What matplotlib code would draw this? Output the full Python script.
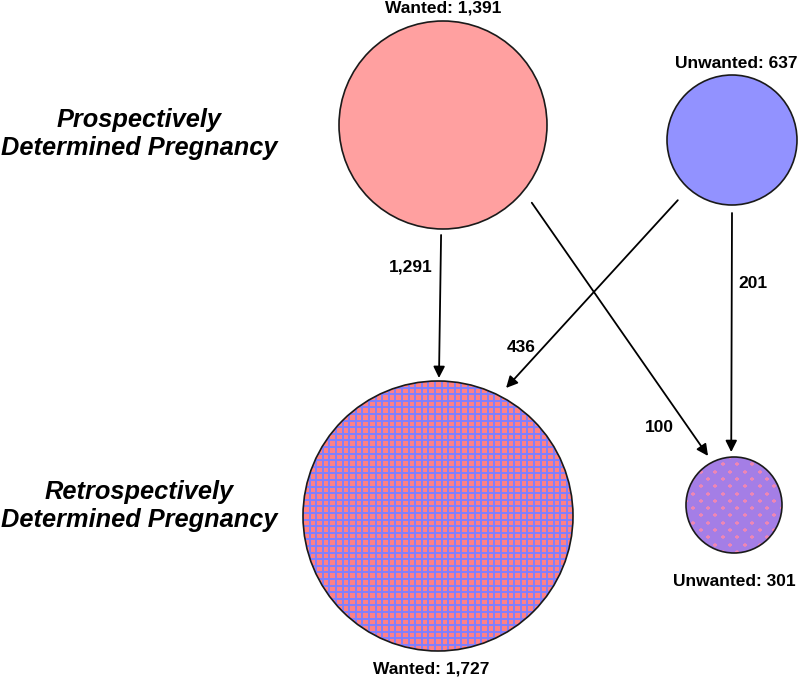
import numpy as np
import matplotlib
matplotlib.use("Agg")
import matplotlib.pyplot as plt
from matplotlib.patches import Circle

# data
node_names = ["pro_wanted", "pro_unwanted", "retro_wanted", "retro_unwanted"]
node_labels = ["Wanted: 1,391", "Unwanted: 637", "Wanted: 1,727", "Unwanted: 301"]
flow_source = ["pro_wanted", "pro_unwanted", "pro_wanted", "pro_unwanted"]
flow_target = ["retro_wanted", "retro_wanted", "retro_unwanted", "retro_unwanted"]
flow_labels = ["1,291", "436", "100", "201"]
row_labels = ["Prospectively\nDetermined Pregnancy", "Retrospectively\nDetermined Pregnancy"]

# layout (pixel space, y down)
node_xy = {"pro_wanted": (443, 125), "pro_unwanted": (732, 140),
           "retro_wanted": (438, 516), "retro_unwanted": (734, 505)}
node_r = {"pro_wanted": 104, "pro_unwanted": 65, "retro_wanted": 135, "retro_unwanted": 48}
node_label_xy = {"pro_wanted": (443, 8), "pro_unwanted": (736, 63),
                 "retro_wanted": (431, 669), "retro_unwanted": (734, 582)}
# (start angle, start gap, end angle, end gap)
flow_geom = [(91, 6, -89.6, 3), (132, 16, -62, 10), (41.2, 14, -117.9, 7.5), (90, 8, -93, 5)]
flow_label_xy = [(433, 267, "right"), (521, 347, "center"), (659, 428, "center"), (753, 283, "center")]
row_label_xy = [(139, 134), (139, 506)]

PINK = "#ff8085"
BLUE = "#7f7fff"

plt.rcParams["font.family"] = ["Liberation Sans", "DejaVu Sans"]

fig = plt.figure(figsize=(8, 6.79), dpi=100)
ax = fig.add_axes([0, 0, 1, 1])
ax.set_xlim(0, 800)
ax.set_ylim(679, 0)
ax.set_aspect("equal")
ax.axis("off")


def texture_grid(name, step=6.6):
    # blue grid over pink, clipped to the circle
    (cx, cy), r = node_xy[name], node_r[name]
    clip = Circle((cx, cy), r, transform=ax.transData)
    ticks = np.arange(-r, r + step, step)
    for t in ticks:
        l1, = ax.plot([cx + t, cx + t], [cy - r, cy + r], color=BLUE, lw=1.4, zorder=2)
        l2, = ax.plot([cx - r, cx + r], [cy + t, cy + t], color=BLUE, lw=1.4, zorder=2)
        l1.set_clip_path(clip)
        l2.set_clip_path(clip)


def texture_dots(name, dx=14.7, dy=7.3):
    # staggered pink dots over purple, clipped to the circle
    (cx, cy), r = node_xy[name], node_r[name]
    clip = Circle((cx, cy), r, transform=ax.transData)
    pts = []
    for i, y in enumerate(np.arange(-r, r + dy, dy)):
        off = 0 if i % 2 == 0 else dx / 2
        for x in np.arange(-r + off, r + dx, dx):
            pts.append((cx + x, cy + y))
    pts = np.array(pts)
    sc = ax.scatter(pts[:, 0], pts[:, 1], marker="+", s=9, linewidths=1.1,
                    color="#ee86b4", zorder=2)
    sc.set_clip_path(clip)


fills = {"pro_wanted": "#ffa0a0", "pro_unwanted": "#9292ff",
         "retro_wanted": PINK, "retro_unwanted": "#a47ee6"}
for name, lab in zip(node_names, node_labels):
    ax.add_patch(Circle(node_xy[name], node_r[name], facecolor=fills[name], lw=0, zorder=1))
    if name == "retro_wanted":
        texture_grid(name)
    elif name == "retro_unwanted":
        texture_dots(name)
    ax.add_patch(Circle(node_xy[name], node_r[name], fill=False, edgecolor="#1a1a1a",
                        lw=1.2, zorder=3))
    lx, ly = node_label_xy[name]
    ax.text(lx, ly, lab, ha="center", va="center", fontsize=12.5, fontweight="bold")

for src, tgt, lab, geom, lxy in zip(flow_source, flow_target, flow_labels, flow_geom, flow_label_xy):
    a0, g0, a1, g1 = geom
    (sx, sy), rs = node_xy[src], node_r[src]
    (tx, ty), rt = node_xy[tgt], node_r[tgt]
    p0 = (sx + (rs + g0) * np.cos(np.radians(a0)), sy + (rs + g0) * np.sin(np.radians(a0)))
    p1 = (tx + (rt + g1) * np.cos(np.radians(a1)), ty + (rt + g1) * np.sin(np.radians(a1)))
    ax.annotate("", xy=p1, xytext=p0,
                arrowprops=dict(arrowstyle="-|>", color="black", lw=1.3,
                                mutation_scale=17, shrinkA=0, shrinkB=0))
    ax.text(lxy[0], lxy[1], lab, ha=lxy[2], va="center", fontsize=12.5, fontweight="bold")

for (x, y), lab in zip(row_label_xy, row_labels):
    ax.text(x, y, lab, ha="center", va="center", fontsize=18.3, fontweight="bold",
            fontstyle="italic", linespacing=1.2)

fig.savefig("out.png", dpi=100)
